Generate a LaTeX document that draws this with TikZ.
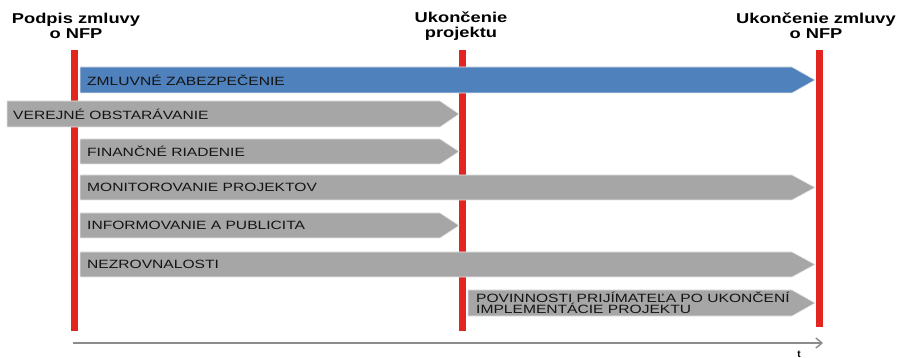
\documentclass[tikz,border=0pt]{standalone}
\usepackage{fontspec}
\setmainfont{Liberation Sans}
\newfontfamily\barfont{Liberation Sans}[FakeStretch=1.3]
\newfontfamily\headfont{Liberation Sans}[FakeStretch=1.28]
\usetikzlibrary{arrows.meta}
\definecolor{barblue}{HTML}{4F81BD}
\definecolor{bargray}{HTML}{A6A6A6}
\definecolor{msred}{HTML}{E2261F}
\definecolor{axisgray}{HTML}{8C8C8C}
\tikzset{
  milestone/.style={draw=msred, line width=7pt},
  heading/.style={font=\headfont\bfseries\fontsize{14.3}{15}\selectfont, align=center, inner sep=0pt},
  bartext/.style={font=\barfont\fontsize{12}{10.5}\selectfont, anchor=west, inner sep=0pt, align=left, text=black!92},
  barfill/.style={fill=#1, draw=white!90!black, line width=0.6pt},
  axis/.style={draw=axisgray, line width=1.6pt, -{Straight Barb[length=6pt,width=10pt,line width=1.4pt]}},
}
\newcommand\barshape[6]{%
  \path[barfill=#5] (#1,#3) -- ({#2-#6},#3) -- (#2,{(#3+#4)/2}) -- ({#2-#6},#4) -- (#1,#4) -- cycle;}
\begin{document}
\begin{tikzpicture}[x=1pt,y=-1pt]
\clip (0,0) rectangle (900,358);
\fill[white] (0,0) rectangle (900,358);
% milestones
\coordinate (m1t) at (74,50);  \coordinate (m1b) at (74,331);
\coordinate (m2t) at (462,50); \coordinate (m2b) at (462,331);
\coordinate (m3t) at (819,50); \coordinate (m3b) at (819,327);
\draw[milestone] (m1t) -- (m1b);
\draw[milestone] (m2t) -- (m2b);
\draw[milestone] (m3t) -- (m3b);
% headings
\node[heading] (h1) at (76,26) {Podpis zmluvy\\o NFP};
\node[heading] (h2) at (461,26) {Ukončenie\\projektu};
\node[heading] (h3) at (816,26) {Ukončenie zmluvy\\o NFP};
% bars
\barshape{80}{815}{67}{93}{barblue}{23}
\node[bartext] (b1) at (87,80) {ZMLUVNÉ ZABEZPEČENIE};
\barshape{7}{459}{101}{127}{bargray}{19}
\node[bartext] (b2) at (13,114) {VEREJNÉ OBSTARÁVANIE};
\barshape{80}{459}{139}{164}{bargray}{19}
\node[bartext] (b3) at (87,151.5) {FINANČNÉ RIADENIE};
\barshape{80}{815}{175}{200}{bargray}{23}
\node[bartext] (b4) at (87,187.5) {MONITOROVANIE PROJEKTOV};
\barshape{80}{459}{213}{238}{bargray}{19}
\node[bartext] (b5) at (87,225.5) {INFORMOVANIE A PUBLICITA};
\barshape{80}{815}{252}{277}{bargray}{23}
\node[bartext] (b6) at (87,264.5) {NEZROVNALOSTI};
\barshape{468}{815}{290}{316}{bargray}{23}
\node[bartext] (b7) at (476,303) {POVINNOSTI PRIJÍMATEĽA PO UKONČENÍ\\IMPLEMENTÁCIE PROJEKTU};
% time axis
\coordinate (t0) at (73,343);
\coordinate (t1) at (823,343);
\draw[axis] (t0) -- (t1);
\node[font=\bfseries\fontsize{10}{10}\selectfont, anchor=south, inner sep=0pt] (tl) at (799,357.5) {t};
\end{tikzpicture}
\end{document}
